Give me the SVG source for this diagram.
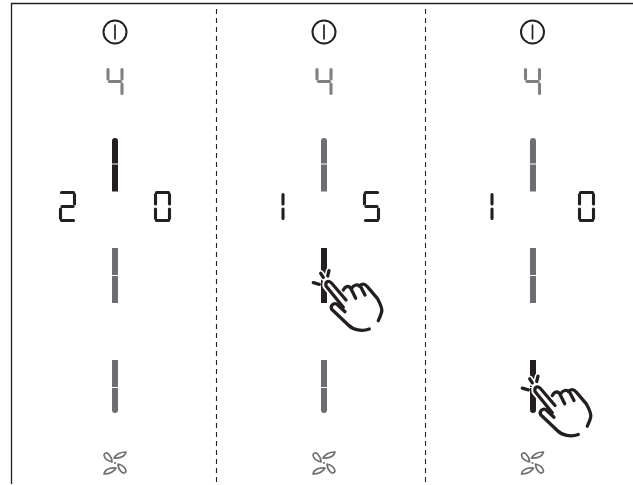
<svg xmlns="http://www.w3.org/2000/svg" width="633" height="485" viewBox="0 0 633 485">
<style>
.seg{stroke-width:3.100;stroke-linecap:round;fill:none}
.k{stroke:#231f20}
.g{stroke:#808082}
.in{fill:none;stroke:#231f20;stroke-width:3.300;stroke-linecap:round;stroke-linejoin:round}
.fan{fill:none;stroke:#6f6f72;stroke-width:1.700;stroke-linejoin:round}
</style>
<defs>
<path id="sT" d="M2.500 1.500H14.500"/>
<path id="sUL" d="M1.500 3.500V13"/>
<path id="sUR" d="M15.500 3.500V13"/>
<path id="sM" d="M3 15.500H14"/>
<path id="sLL" d="M1.500 18V27.500"/>
<path id="sLR" d="M15.500 18V27.500"/>
<path id="sB" d="M2.500 29.500H14.500"/>
<g id="d0"><use href="#sT"/><use href="#sUL"/><use href="#sUR"/><use href="#sLL"/><use href="#sLR"/><use href="#sB"/></g>
<g id="d1"><path d="M0 3.500V13M0 18V27.500"/></g>
<g id="d2"><use href="#sT"/><use href="#sUR"/><use href="#sM"/><use href="#sLL"/><use href="#sB"/></g>
<g id="d4"><use href="#sUL"/><use href="#sUR"/><use href="#sM"/><use href="#sLR"/></g>
<g id="d5"><use href="#sT"/><use href="#sUL"/><use href="#sM"/><use href="#sLR"/><use href="#sB"/></g>
<g id="power"><circle r="11.500" fill="none" stroke="#231f20" stroke-width="2"/><path d="M0 -7.500V7.500" stroke="#231f20" stroke-width="1.700"/></g>
<path id="petA" class="fan" d="M-3 -1C-7 -2 -10.500 -4 -11 -8C-10.500 -10.500 -8 -10.500 -6.500 -9C-4.500 -7 -3 -4 -3 -1Z"/>
<path id="petB" class="fan" d="M-1 -5C2 -10 6 -11 11 -11C10 -7 6 -4.500 -1 -5Z"/>
<g id="fan">
<circle r="1.100" fill="#6f6f72"/>
<use href="#petA"/><use href="#petB"/><use href="#petA" transform="rotate(180)"/><use href="#petB" transform="rotate(180)"/>
</g>
<path id="barUp" d="M-3 25.500V3A3 3 0 0 1 3 3V25.500Z"/>
<path id="barSq" d="M-3 0H3V27H-3Z"/>
<path id="barDn" d="M-3 0H3V22A3 3 0 0 1 -3 22Z"/>
<g id="hand">
<path fill="#fff" stroke="#fff" stroke-width="7" stroke-linejoin="round" d="M326 286C325 281 329 280 331.700 283.300L344 294C345 287 349 285 352 288C354 284 358 283 361 286C363 283 365 284 367.300 286.700L377.300 298.300C380 303.300 382.700 308.300 381.700 311.700L378.300 320.700L369.300 329C361.700 331.700 353.300 330 348.300 325L331.700 309.300C330 306 333.300 302.700 336.700 304L343 307Z"/>
<path d="M320.700 273.300L323.300 277.300M329 270.700L327.700 276" fill="none" stroke="#fff" stroke-width="6.500" stroke-linecap="round"/>
<path class="in" d="M345 311.700L336.700 304C333.300 302.700 330 306 331.700 309.300L348.300 325C353.300 330 361.700 331.700 369.300 329"/>
<path class="in" d="M343.300 307.300L326 286C325 281 329 280 331.700 283.300L346 300"/>
<path class="in" d="M343.300 290C345 286.700 348.300 285 350.700 288.300L355.700 298.300"/>
<path class="in" d="M351.700 288.300C353.300 285 358.300 283.300 360.700 286.700L365 295"/>
<path class="in" d="M359.300 286C361.700 283.300 365 283.300 367.300 286.700L377.300 298.300C380 303.300 382.700 308.300 381.700 311.700C381 315 379.300 318.300 378.300 320.700"/>
<path class="in" d="M320.700 273.300L323.300 277.300M329 270.700L327.700 276M313.300 282.700L319.300 284.300"/>
</g>
</defs>
<g id="connectors">
<path d="M11.500 484V3.500H633" fill="none" stroke="#231f20" stroke-width="1.300"/>
<path d="M216.500 9V484M425.500 9V484" fill="none" stroke="#231f20" stroke-width="1.100" stroke-dasharray="5 4"/>
</g>
<g id="panel1">
<use href="#power" x="115" y="32"/>
<g class="seg g" transform="translate(106.500 66)"><use href="#d4"/></g>
<g id="p1-s1" fill="#231f20"><use href="#barUp" x="115" y="138"/><use href="#barSq" x="115" y="164.500"/></g>
<g class="seg k" transform="translate(59 191)"><use href="#d2"/></g>
<g class="seg k" transform="translate(154 191)"><use href="#d0"/></g>
<g id="p1-s2" fill="#6d6e71"><use href="#barSq" x="115" y="248"/><use href="#barSq" x="115" y="276"/></g>
<g id="p1-s3" fill="#6d6e71"><use href="#barSq" x="115" y="360"/><use href="#barDn" x="115" y="388"/></g>
<use href="#fan" x="115" y="463"/>
</g>
<g id="panel2">
<use href="#power" x="324" y="32"/>
<g class="seg g" transform="translate(315.500 66)"><use href="#d4"/></g>
<g id="p2-s1" fill="#6d6e71"><use href="#barUp" x="324" y="138"/><use href="#barSq" x="324" y="164.500"/></g>
<g class="seg k" transform="translate(283 191)"><use href="#d1"/></g>
<g class="seg k" transform="translate(363 191)"><use href="#d5"/></g>
<g id="p2-s2" fill="#231f20"><use href="#barSq" x="324" y="248"/><use href="#barSq" x="324" y="276"/></g>
<g id="p2-s3" fill="#6d6e71"><use href="#barSq" x="324" y="360"/><use href="#barDn" x="324" y="388"/></g>
<use href="#fan" x="324" y="463"/>
<use href="#hand"/>
</g>
<g id="panel3">
<use href="#power" x="532.500" y="32"/>
<g class="seg g" transform="translate(524 66)"><use href="#d4"/></g>
<g id="p3-s1" fill="#6d6e71"><use href="#barUp" x="533" y="138"/><use href="#barSq" x="533" y="164.500"/></g>
<g class="seg k" transform="translate(492 191)"><use href="#d1"/></g>
<g class="seg k" transform="translate(578 191)"><use href="#d0"/></g>
<g id="p3-s2" fill="#6d6e71"><use href="#barSq" x="533" y="248"/><use href="#barSq" x="533" y="276"/></g>
<g id="p3-s3" fill="#231f20"><use href="#barSq" x="533" y="360"/><use href="#barDn" x="533" y="388"/></g>
<use href="#fan" x="532.500" y="463"/>
<use href="#hand" transform="translate(209 105.500)"/>
</g>
</svg>
